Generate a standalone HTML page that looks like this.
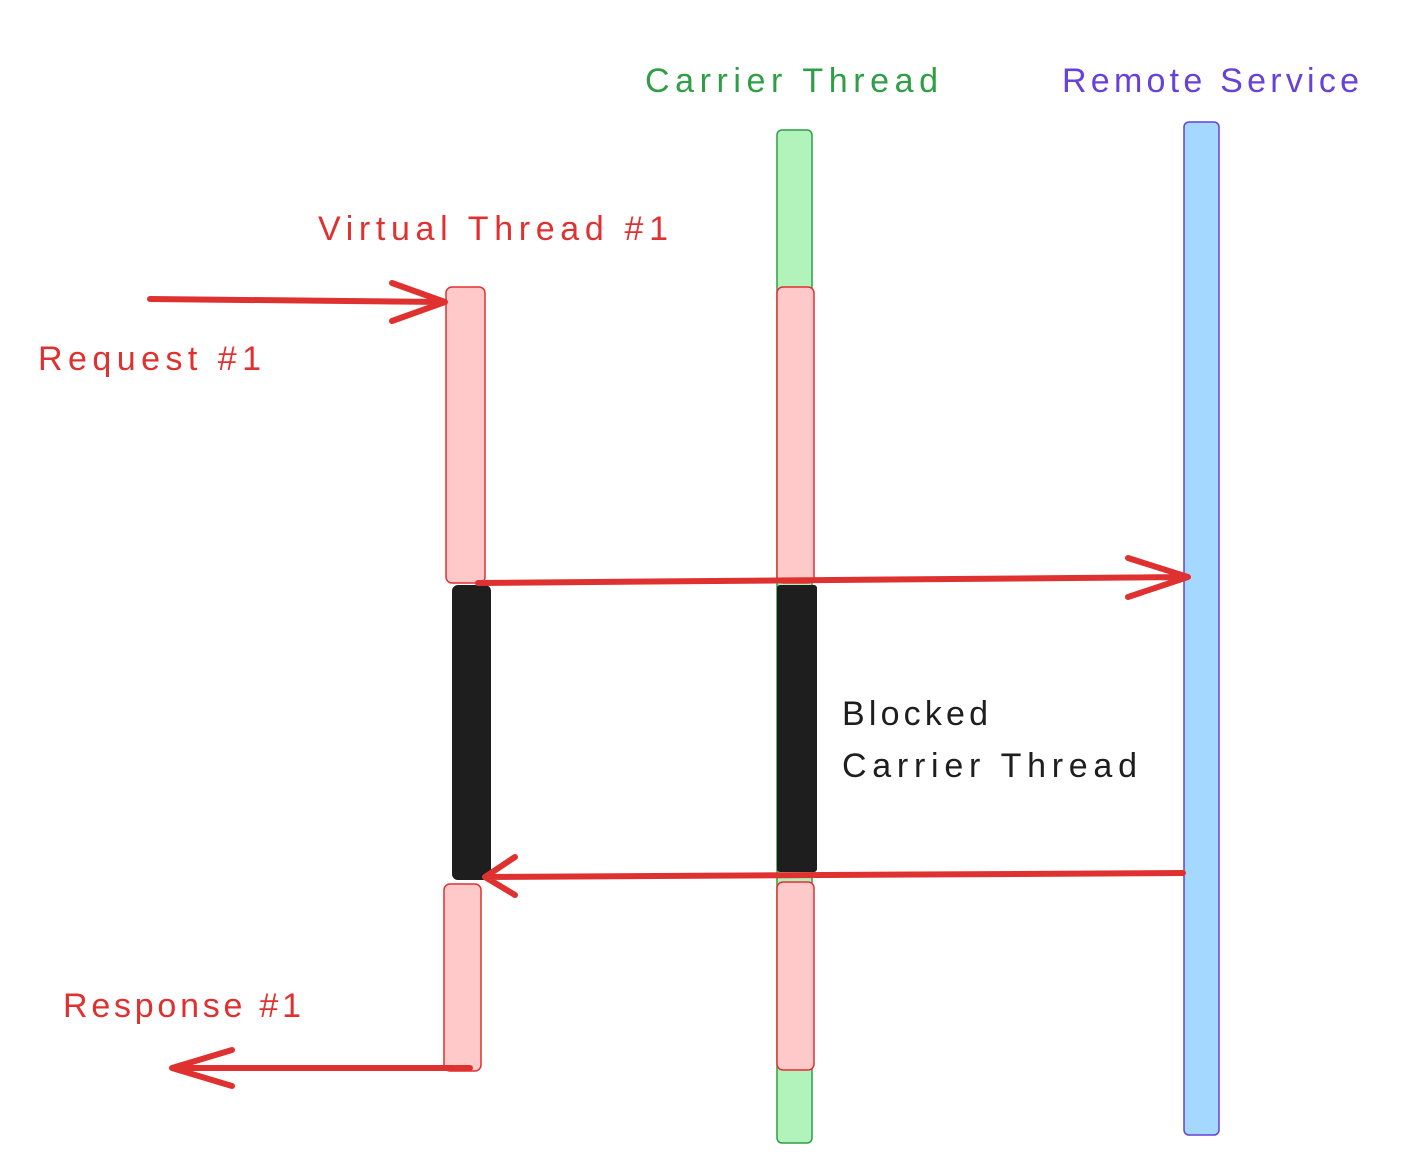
<!DOCTYPE html>
<html><head><meta charset="utf-8"><style>html,body{margin:0;padding:0;background:#fff}svg{display:block}</style></head>
<body>
<svg width="1426" height="1176" viewBox="0 0 1426 1176" xmlns="http://www.w3.org/2000/svg" font-family="Liberation Sans, sans-serif">
<rect x="777" y="130" width="35" height="1013" rx="5" fill="#b2f2bb" stroke="#2f9e44" stroke-width="1.5"/>
<rect x="1184" y="122" width="35" height="1013" rx="5" fill="#a5d8ff" stroke="#6741d9" stroke-width="1.5"/>
<rect x="446" y="287" width="39" height="296" rx="6" fill="#ffc9c9" stroke="#e03131" stroke-width="1.5"/>
<rect x="777" y="287" width="37" height="296" rx="6" fill="#ffc9c9" stroke="#e03131" stroke-width="1.5"/>
<rect x="452" y="585" width="39" height="295" rx="6" fill="#1e1e1e"/>
<rect x="777" y="585" width="40" height="287" rx="3" fill="#1e1e1e"/>
<rect x="444" y="884" width="37" height="187" rx="6" fill="#ffc9c9" stroke="#e03131" stroke-width="1.5"/>
<rect x="777" y="882" width="37" height="188" rx="6" fill="#ffc9c9" stroke="#e03131" stroke-width="1.5"/>
<g stroke="#e03131" stroke-width="6" fill="none" stroke-linecap="round" stroke-linejoin="round">
<path d="M150 299 L445 302 M392 283 L445 302 L392 321"/>
<path d="M478 583 L1188 577 M1128 558 L1188 577 L1128 597"/>
<path d="M1183 873 L485 877 M515 857 L485 877 L515 895"/>
<path d="M470 1068 L172 1068 M232 1050 L172 1068 L232 1086"/>
</g>
<g font-size="34">
<text x="645" y="92" fill="#2f9e44" textLength="293">Carrier Thread</text>
<text x="1062" y="92" fill="#6741d9" textLength="297">Remote Service</text>
<text x="318" y="240" fill="#e03131" textLength="350">Virtual Thread #1</text>
<text x="38" y="370" fill="#e03131" textLength="223">Request #1</text>
<text x="842" y="725" fill="#1e1e1e" textLength="146">Blocked</text>
<text x="842" y="777" fill="#1e1e1e" textLength="295">Carrier Thread</text>
<text x="63" y="1017" fill="#e03131" textLength="238">Response #1</text>
</g>
</svg>
</body></html>
